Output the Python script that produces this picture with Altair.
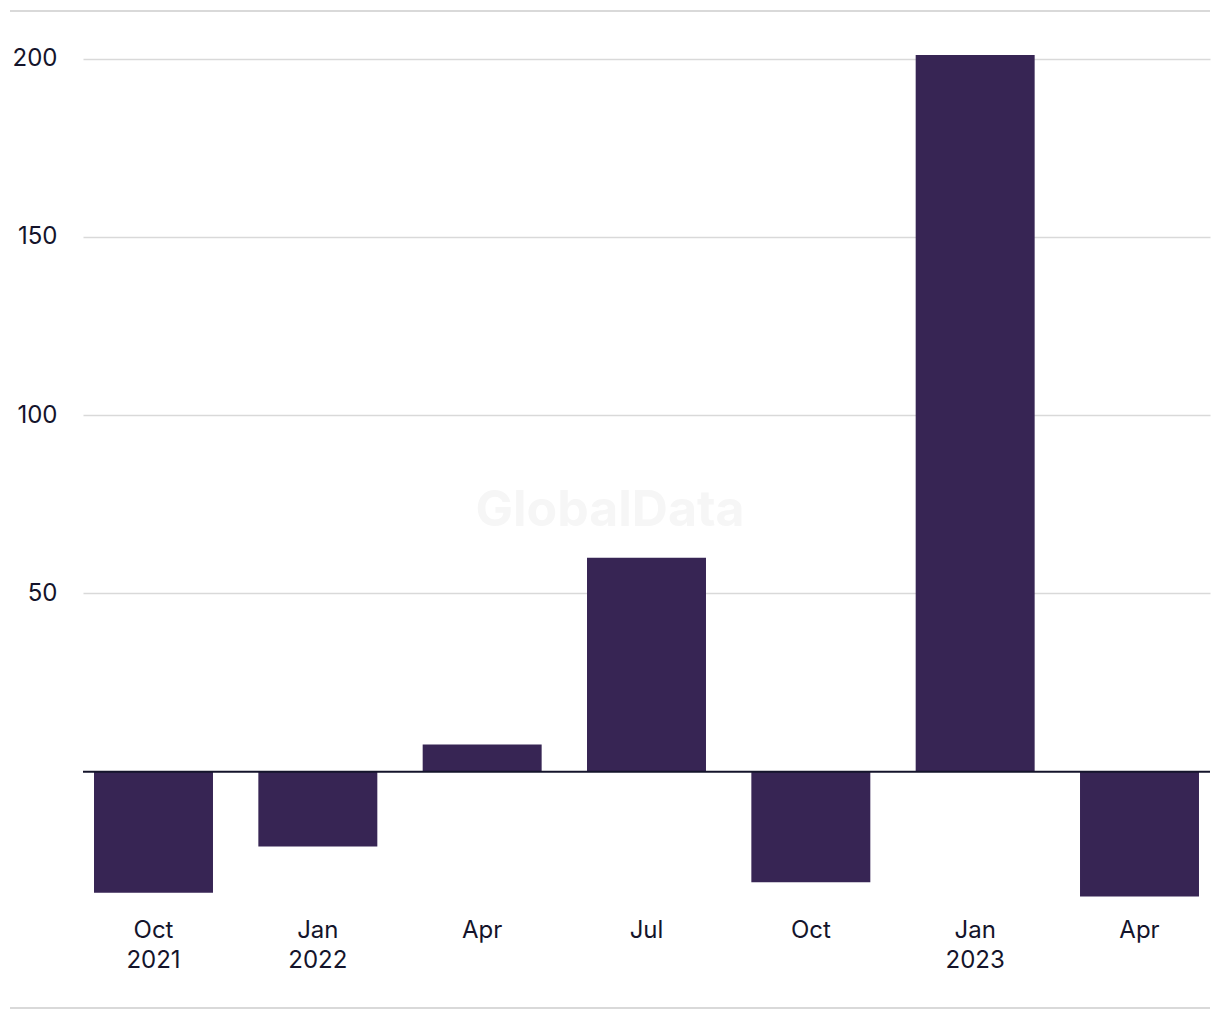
import altair as alt
import pandas as pd

categories = ["Oct 2021", "Jan 2022", "Apr 2022", "Jul 2022", "Oct 2022", "Jan 2023", "Apr 2023"]
values = [-34, -21, 7.6, 60, -31, 201, -35]
tick_labels = [["Oct", "2021"], ["Jan", "2022"], ["Apr"], ["Jul"], ["Oct"], ["Jan", "2023"], ["Apr"]]
y_ticks = [50, 100, 150, 200]

df = pd.DataFrame({"period": categories, "value": values})

label_expr = "''"
for c, lab in reversed(list(zip(categories, tick_labels))):
    arr = "[" + ",".join("'" + s + "'" for s in lab) + "]"
    label_expr = f"datum.value == '{c}' ? {arr} : ({label_expr})"

FONT = "Inter"
TEXT = "#14142b"
W, H = 1127, 877

base = alt.Chart(df)

bars = base.mark_bar(color="#372554").encode(
    x=alt.X("period:N", sort=categories,
            scale=alt.Scale(paddingInner=0.276, paddingOuter=0.067),
            axis=alt.Axis(title=None, labelExpr=label_expr, labelAngle=0,
                          ticks=False, domain=False, grid=False,
                          labelFont=FONT, labelFontSize=24, labelColor=TEXT,
                          labelPadding=18, labelLineHeight=30)),
    y=alt.Y("value:Q", scale=alt.Scale(domain=[-36, 210], nice=False, zero=True),
            axis=alt.Axis(title=None, values=y_ticks, ticks=False, domain=False,
                          grid=True, gridColor="#d9d9d9", gridWidth=1.5,
                          labelFont=FONT, labelFontSize=24, labelColor=TEXT,
                          labelPadding=26)),
)

zero = alt.Chart(pd.DataFrame({"y": [0]})).mark_rule(color=TEXT, strokeWidth=2).encode(
    y="y:Q"
)

frame = alt.Chart(pd.DataFrame({"y": [-12, 985]})).mark_rule(
    color="#d9d9d9", strokeWidth=2
).encode(
    x=alt.value(-73), x2=alt.value(1127), y=alt.Y("y:Q", scale=None)
)

watermark = alt.Chart(pd.DataFrame({"t": ["GlobalData"]})).mark_text(
    font=FONT, fontSize=50, fontWeight="bold", color="#f6f6f6"
).encode(text="t:N", x=alt.value(527), y=alt.value(488))

chart = alt.layer(watermark, bars, zero, frame).properties(
    width=W, height=H,
    background="white",
    autosize=alt.AutoSizeParams(type="none"),
    padding={"left": 75, "top": 15, "right": 2, "bottom": 110},
).configure_view(strokeWidth=0, stroke=None)

chart.save("out.html", embed_options={"renderer": "svg", "actions": False})
